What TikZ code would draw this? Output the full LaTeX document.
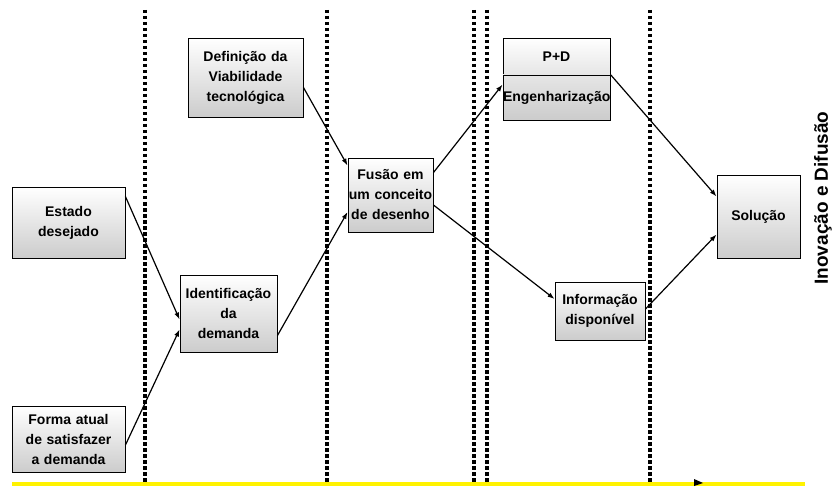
\documentclass[tikz,border=0pt]{standalone}
\usepackage{fontspec}
\setmainfont{Liberation Sans}
\usetikzlibrary{arrows.meta}
\tikzset{
  caixa/.style 2 args={draw=black, line width=0.9pt, top color=white, bottom color=black!20,
    align=center, inner sep=0pt, text width=#1, minimum width=#1, minimum height=#2,
    font=\bfseries\fontsize{14}{20}\selectfont},
  seta/.style={-{Latex[length=7pt,width=5pt]}, line width=1.2pt},
  divisa/.style={line width=3.5pt, dash pattern=on 3.5pt off 2.5pt},
}
\begin{document}
\begin{tikzpicture}[x=1pt,y=-1pt]
  \useasboundingbox (0,0) rectangle (840,489);
  \foreach \x in {145,327,474,487,650}
    \draw[divisa] (\x,10) -- (\x,485);
  \draw[yellow, line width=4pt] (12,484) -- (805,484);
  \fill[black] (694,479) -- (703,483) -- (694,486) -- cycle;

  \node[caixa={113pt}{71pt}] (estado) at (68.5,222.5) {Estado\\desejado};
  \node[caixa={113pt}{66pt}] (forma) at (68.5,439) {Forma atual\\de satisfazer\\a demanda};
  \node[caixa={97pt}{77pt}] (ident) at (228.5,313.5) {Identificação\\da\\demanda};
  \node[caixa={115pt}{79pt}] (defin) at (245.5,77.5) {Definição da\\Viabilidade\\tecnológica};
  \node[caixa={85pt}{74pt}] (fusao) at (390.5,195) {Fusão em\\um conceito\\de desenho};
  \node[caixa={107pt}{37pt}, bottom color=black!10] (pd) at (556.5,56.5) {P+D};
  \node[caixa={107pt}{45pt}, top color=black!10] (eng) at (556.5,97.5) {Engenharização};
  \node[caixa={90pt}{58pt}] (info) at (600,311) {Informação\\disponível};
  \node[caixa={83pt}{83pt}] (solucao) at (758.5,216.5) {Solução};
  \node[rotate=90, font=\bfseries\fontsize{19}{20}\selectfont] (inov) at (823,198) {Inovação e Difusão};

  \draw[seta] ([yshift=-10pt]estado.north east) -- ([yshift=-6pt]ident.west);
  \draw[seta] ([yshift=-6pt]forma.east) -- ([yshift=-16pt]ident.west);
  \draw[seta] ([yshift=-22pt]ident.east) -- ([yshift=-17pt]fusao.west);
  \draw[seta] ([yshift=-10pt]defin.east) -- ([yshift=-8pt]fusao.north west);
  \draw[seta] ([yshift=-15pt]fusao.north east) -- ([yshift=-10pt]eng.north west);
  \draw[seta] ([yshift=-10pt]fusao.east) -- ([yshift=12pt]info.west);
  \draw[seta] (eng.north east) -- ([yshift=20pt]solucao.west);
  \draw[seta] ([yshift=2pt]info.east) -- ([yshift=-18pt]solucao.west);
\end{tikzpicture}
\end{document}
